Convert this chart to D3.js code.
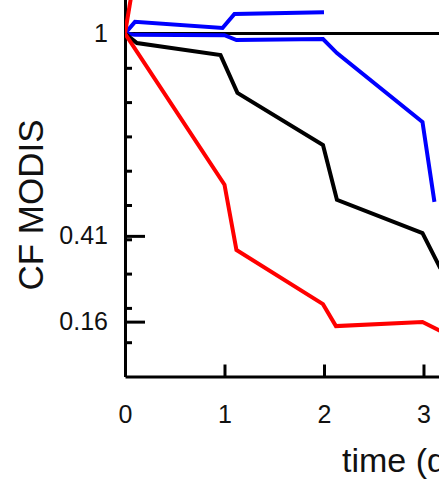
<!DOCTYPE html>
<html>
<head>
<meta charset="utf-8">
<script src="https://cdn.jsdelivr.net/npm/d3@7"></script>
<style>
  body { margin: 0; background: #fff; }
  svg { display: block; }
  text { font-family: "Liberation Sans", Arial, sans-serif; fill: #111; }
</style>
</head>
<body>
<div id="canvas"></div>
<script>
// values (time in days, CF MODIS)
const redX = [0, 1.0, 1.12, 1.99, 2.12, 2.99, 3.17];
const redY = [1, 0.559, 0.369, 0.211, 0.147, 0.159, 0.133];
const redUpX = [0, 0.08];
const redUpY = [1, 1.14];
const blackX = [0, 0.12, 0.96, 1.13, 1.99, 2.13, 2.99, 3.17];
const blackY = [1, 0.972, 0.937, 0.827, 0.675, 0.515, 0.418, 0.315];
const blueX = [0, 0.1, 1.0, 1.12, 1.99, 2.13, 2.99, 3.11];
const blueY = [1, 0.996, 0.995, 0.981, 0.984, 0.943, 0.742, 0.509];
const blueUpX = [0, 0.1, 0.98, 1.1, 2.0];
const blueUpY = [1, 1.034, 1.016, 1.057, 1.062];
const xTicks = [0, 1, 2, 3];
const yMinor = [0.1, 0.2, 0.3, 0.4, 0.5, 0.6, 0.7, 0.8, 0.9];
const yMajor = [0.16, 0.41, 1];

const w = 439;
const h = 481;

const xScale = d3.scaleLinear().domain([0, 3.16]).range([125, 439.4]);
const yScale = d3.scaleLinear().domain([0, 1.1]).range([376.5, -0.8]);

const svg = d3.select('#canvas')
  .append('svg')
  .attr('width', w)
  .attr('height', h);

svg.append('defs').append('clipPath')
  .attr('id', 'plot')
  .append('rect')
  .attr('x', 125).attr('y', 0)
  .attr('width', w - 125).attr('height', 376);

// x axis, ticks pointing up
svg.append('g')
  .attr('transform', 'translate(0,' + yScale(0) + ')')
  .call(d3.axisBottom(xScale).tickValues(xTicks).tickSize(-12).tickSizeOuter(0).tickPadding(29)
    .tickFormat(d3.format('d')));

// y axis: minor ticks, then labelled ones
svg.append('g')
  .attr('transform', 'translate(' + xScale(0) + ',0)')
  .call(d3.axisLeft(yScale).tickValues(yMinor).tickSize(-7).tickSizeOuter(0).tickFormat(''));

svg.append('g')
  .attr('transform', 'translate(' + xScale(0) + ',0)')
  .call(d3.axisLeft(yScale).tickValues(yMajor).tickSize(-20).tickSizeOuter(0).tickPadding(17)
    .tickFormat(d => String(d)));

svg.selectAll('.domain, .tick line').attr('stroke', '#000').attr('stroke-width', 3);
svg.selectAll('.tick text').style('font-size', '25px').attr('fill', '#111');

svg.append('text')
  .attr('transform', 'translate(43,205) rotate(-90)')
  .style('text-anchor', 'middle')
  .style('font-size', '35px')
  .text('CF MODIS');

svg.append('text')
  .attr('x', 342)
  .attr('y', 472)
  .style('font-size', '34px')
  .text('time (days)');

const plot = svg.append('g').attr('clip-path', 'url(#plot)');

plot.append('line')
  .attr('x1', xScale(0)).attr('x2', w)
  .attr('y1', yScale(1)).attr('y2', yScale(1))
  .attr('stroke', '#000')
  .attr('stroke-width', 3);

const line = d3.line()
  .x(d => xScale(d[0]))
  .y(d => yScale(d[1]));

const series = [
  { xs: blueUpX, ys: blueUpY, color: '#0000ff' },
  { xs: blueX, ys: blueY, color: '#0000ff' },
  { xs: blackX, ys: blackY, color: '#000000' },
  { xs: redUpX, ys: redUpY, color: '#ff0000' },
  { xs: redX, ys: redY, color: '#ff0000' }
];

series.forEach(s => {
  plot.append('path')
    .datum(s.xs.map((x, i) => [x, s.ys[i]]))
    .attr('d', line)
    .attr('fill', 'none')
    .attr('stroke', s.color)
    .attr('stroke-width', 4)
    .attr('stroke-linejoin', 'miter');
});
</script>
</body>
</html>
